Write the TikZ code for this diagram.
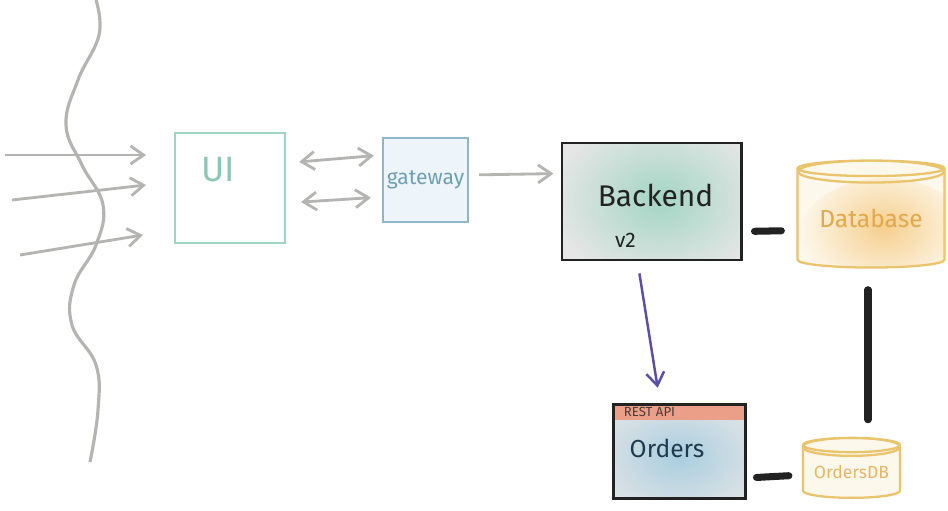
\documentclass[tikz,border=0pt]{standalone}
\usepackage{fontspec}
\setmainfont{Fira Sans}
\usepackage{xcolor}
\usetikzlibrary{shapes,arrows,positioning,calc,arrows.meta}

\definecolor{uiteal}{HTML}{9ED5C4}
\definecolor{uitext}{HTML}{8CC7B4}
\definecolor{gwline}{HTML}{93B4C6}
\definecolor{gwfill}{HTML}{EEF5FA}
\definecolor{gwtext}{HTML}{6E9FB2}
\definecolor{arrowgray}{HTML}{B4B4B2}
\definecolor{boxgray}{HTML}{E6E6E6}
\definecolor{blobgreen}{HTML}{A3D5C4}
\definecolor{blobblue}{HTML}{A9CEDF}
\definecolor{bandred}{HTML}{EC9F88}
\definecolor{dbline}{HTML}{E9C46C}
\definecolor{dbfill}{HTML}{FDF8EC}
\definecolor{blobamber}{HTML}{F5CF8E}
\definecolor{dbtext}{HTML}{E2A84C}
\definecolor{ink}{HTML}{222222}
\definecolor{ordersink}{HTML}{1F3A4F}
\definecolor{callpurple}{HTML}{5B4EA6}

\tikzset{
    flow/.style={draw=arrowgray, line width=1.6pt, -{Straight Barb[length=2.6mm,width=3.6mm]}},
    twoway/.style={draw=arrowgray, line width=1.6pt, {Straight Barb[length=2.6mm,width=3.6mm]}-{Straight Barb[length=2.6mm,width=3.6mm]}},
    link/.style={draw=ink, line width=4pt, line cap=round},
    dbcyl/.style={cylinder, shape border rotate=90, draw=dbline, line width=1.3pt, fill=dbfill, inner sep=0pt},
    service/.style={draw=ink, line width=1.7pt, fill=boxgray, inner sep=0pt}
}

\begin{document}
\begin{tikzpicture}[x=0.2mm, y=-0.2mm]
        \useasboundingbox[fill=white] (0,0) rectangle (948,510);

        % boundary
        \draw[arrowgray, line width=1.8pt] plot[smooth, tension=0.7] coordinates {(96,0) (99,35) (78,80) (66,125) (82,165) (103,205) (96,245) (74,285) (72,325) (96,365) (98,410) (90,462)};

        % front end
        \node[draw=uiteal, line width=1.3pt, fill=white, minimum width=22mm, minimum height=22mm] (ui) at (230,188) {};
        \node[text=uitext, font=\fontsize{20}{20}\selectfont] at ($(ui.center)+(-12,-18)$) {UI};
        \node[draw=gwline, line width=1.3pt, fill=gwfill, minimum width=17mm, minimum height=16.8mm, text=gwtext, font=\fontsize{12}{12}\selectfont, inner sep=0pt] (gw) at (425.5,180) {gateway};

        % incoming traffic
        \coordinate (in1) at (5,155);
        \coordinate (in2) at (12,200);
        \coordinate (in3) at (20,255);
        \coordinate (to1) at (146,155);
        \coordinate (to2) at (146,185);
        \coordinate (to3) at (143,235);
        \draw[flow] (in1) -- (to1);
        \draw[flow] (in2) -- (to2);
        \draw[flow] (in3) -- (to3);

        \draw[twoway, shorten <=2.6mm, shorten >=1.6mm] ($(ui.east)+(0,-25)$) -- ($(gw.west)+(0,-25)$);
        \draw[twoway, shorten <=3mm, shorten >=2.2mm] ($(ui.east)+(0,15)$) -- ($(gw.west)+(0,17)$);

        % backend
        \node[service, minimum width=35.8mm, minimum height=23.4mm,
              path picture={\shade[inner color=blobgreen, outer color=boxgray] ($(path picture bounding box.center)+(8,-2)$) ellipse (110 and 85);}] (backend) at (651.5,201.5) {};
        \node[text=ink, font=\fontsize{17}{17}\selectfont] at ($(backend.center)+(4,-6)$) {Backend};
        \node[text=ink, font=\fontsize{12}{12}\selectfont] at ($(backend.center)+(-26,39)$) {v2};
        \draw[flow, shorten <=2mm, shorten >=1.4mm] ($(gw.east)+(0,-5)$) -- ($(backend.west)+(0,-28)$);

        \node[dbcyl, aspect=0.15, minimum width=29.4mm, minimum height=21.4mm, text=dbtext, font=\fontsize{14}{14}\selectfont,
              path picture={\shade[inner color=blobamber, outer color=dbfill] ($(path picture bounding box.center)+(14,22)$) ellipse (85 and 58);
                            \draw[dbline, line width=1.3pt] ($(path picture bounding box.north)+(0,11)$) ellipse (73 and 11);}] (db) at (871,218.5) {Database};
        \draw[link, shorten <=2.4mm, shorten >=3mm] ($(backend.east)+(0,30)$) -- ($(db.west)+(0,12)$);

        % orders service
        \node[service, minimum width=26.4mm, minimum height=18.8mm,
              path picture={\shade[inner color=blobblue, outer color=boxgray] ($(path picture bounding box.center)+(0,6)$) ellipse (100 and 70);
                            \fill[bandred] (path picture bounding box.north west) rectangle ($(path picture bounding box.north east)+(0,16)$);}] (orders) at (679,451) {};
        \node[anchor=west, text=ink!80!bandred, font=\fontsize{7.5}{7.5}\selectfont, inner sep=0pt] at ($(orders.north west)+(12,9)$) {REST API};
        \node[text=ordersink, font=\fontsize{14}{14}\selectfont] at ($(orders.center)+(-12,-3)$) {Orders};
        \draw[callpurple, line width=1.4pt, -{Straight Barb[length=2.6mm,width=3.6mm]}, shorten <=2.4mm, shorten >=3mm] ($(backend.south)+(-14,0)$) -- ($(orders.north)+(-19,0)$);

        \node[dbcyl, aspect=0.19, minimum width=19.4mm, minimum height=12mm, text=dbtext!85!white, font=\fontsize{10}{10}\selectfont,
              path picture={\draw[dbline, line width=1.3pt] ($(path picture bounding box.north)+(0,9)$) ellipse (49 and 9);}] (odb) at (851.5,472) {OrdersDB};
        \draw[link, shorten <=2mm, shorten >=2.6mm] ($(orders.east)+(0,27)$) -- ($(odb.west)+(0,3)$);
        \coordinate (dbfoot) at ($(db.south)+(-3,0)$);
        \draw[link, shorten <=4.2mm, shorten >=3.4mm] (dbfoot) -- (dbfoot |- odb.north);
\end{tikzpicture}
\end{document}
